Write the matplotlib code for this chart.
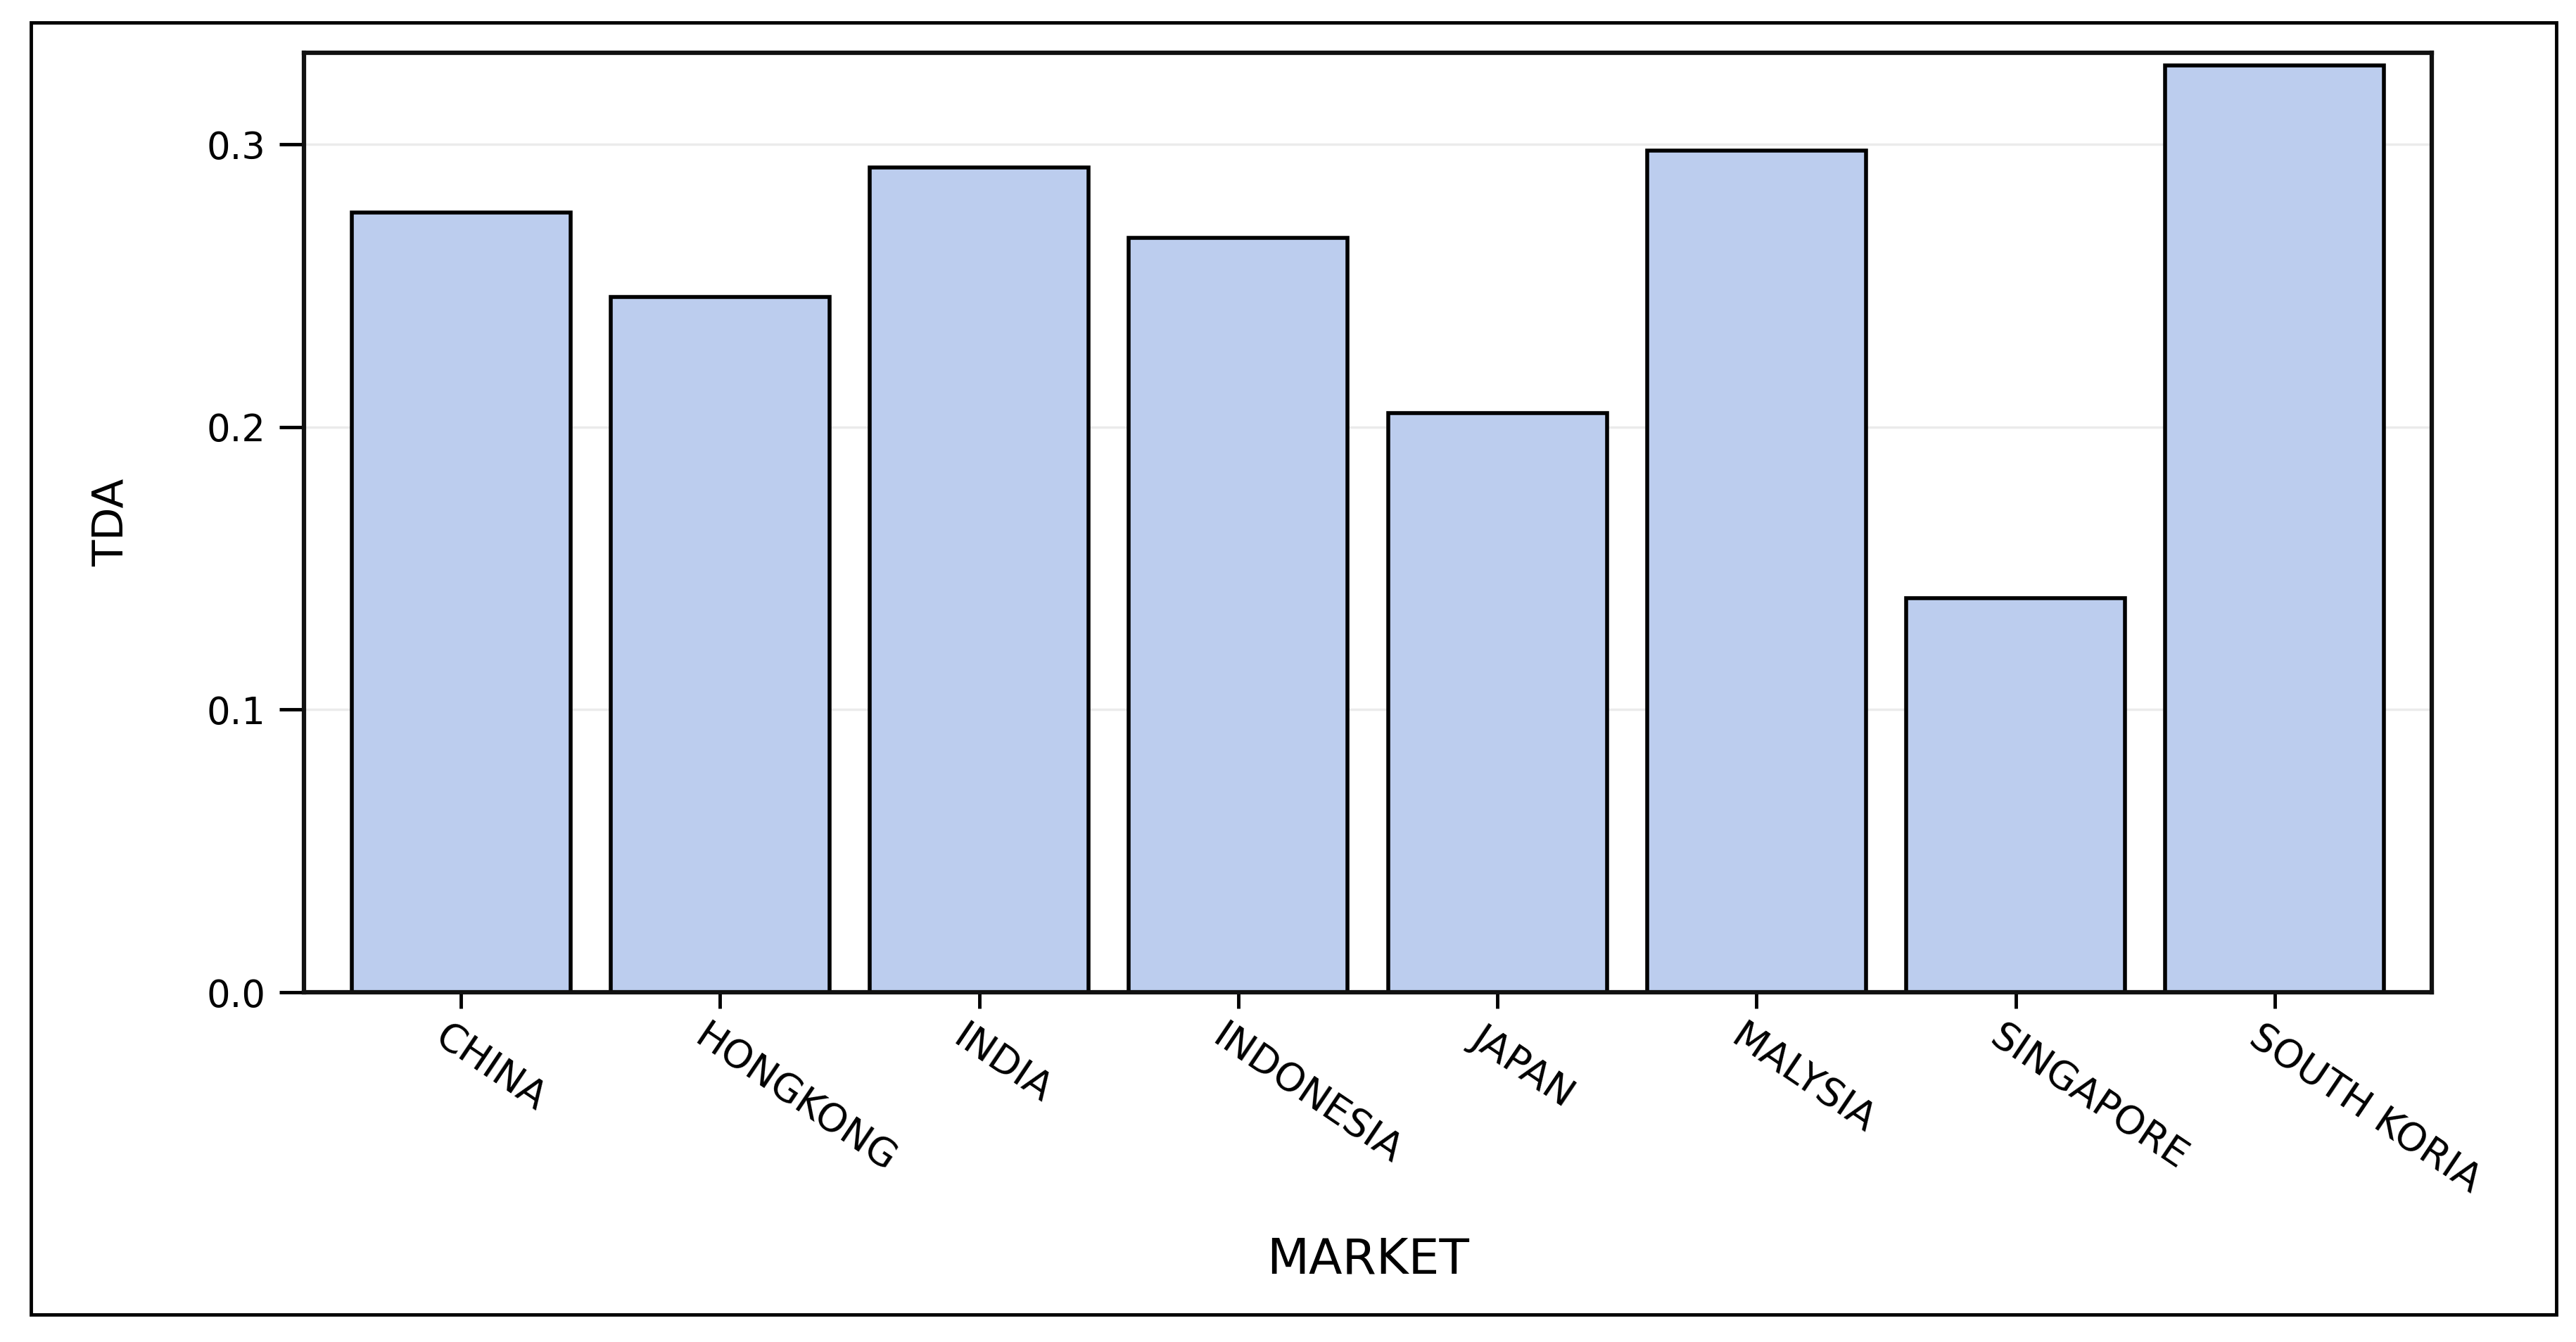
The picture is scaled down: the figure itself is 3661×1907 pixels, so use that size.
import matplotlib
matplotlib.use("Agg")
import matplotlib.pyplot as plt
import matplotlib.transforms as mtransforms
from matplotlib.patches import Rectangle

# data
markets = ["CHINA", "HONGKONG", "INDIA", "INDONESIA", "JAPAN", "MALYSIA", "SINGAPORE", "SOUTH KORIA"]
tda = [0.276, 0.246, 0.292, 0.267, 0.205, 0.298, 0.1395, 0.328]
y_ticks = [0.0, 0.1, 0.2, 0.3]
y_tick_labels = ["0.0", "0.1", "0.2", "0.3"]

W, H, DPI = 3662, 1907, 100
fig = plt.figure(figsize=(W / DPI, H / DPI), dpi=DPI)
fig.patch.set_facecolor("white")

# outer frame around the whole graph
fig.patches.append(Rectangle((44 / W, 1 - 1868 / H), (3633 - 44) / W, (1868 - 32) / H,
                             transform=fig.transFigure, fill=False,
                             edgecolor="black", linewidth=3.5, zorder=0))

ax = fig.add_axes([432 / W, 1 - 1410 / H, (3456 - 432) / W, (1410 - 75) / H])

x = list(range(len(markets)))
ax.bar(x, tda, width=0.845, color="#BCCDEE", edgecolor="black", linewidth=4, zorder=2)

ax.set_xlim(-0.606, len(markets) - 1 + 0.606)
ax.set_ylim(0, 0.3325)

# light horizontal grid behind the bars
ax.set_axisbelow(True)
ax.yaxis.grid(True, color="#EBEBEB", linewidth=2.5)
ax.xaxis.grid(False)

for side in ["left", "right", "top", "bottom"]:
    ax.spines[side].set_linewidth(4.5)
    ax.spines[side].set_color("#111111")

ax.set_yticks(y_ticks)
ax.set_yticklabels(y_tick_labels, fontsize=38)
ax.tick_params(axis="y", direction="out", length=25, width=3.5, pad=14, colors="black")

ax.set_xticks(x)
ax.set_xticklabels(markets, fontsize=40, rotation=-34, ha="left", va="top",
                   rotation_mode="anchor")
ax.tick_params(axis="x", direction="out", length=16.5, width=3.5, pad=10, colors="black")
shift = mtransforms.ScaledTranslation(-16 / DPI, 0, fig.dpi_scale_trans)
for lbl in ax.get_xticklabels():
    lbl.set_transform(lbl.get_transform() + shift)

ax.set_xlabel("MARKET", fontsize=50, va="baseline")
ax.xaxis.set_label_coords(0.5, -400 / (1410 - 75))
ax.set_ylabel("TDA", fontsize=44, va="center")
ax.yaxis.set_label_coords(-(432 - 158) / (3456 - 432), 0.5)

fig.savefig("out.png", dpi=DPI)
